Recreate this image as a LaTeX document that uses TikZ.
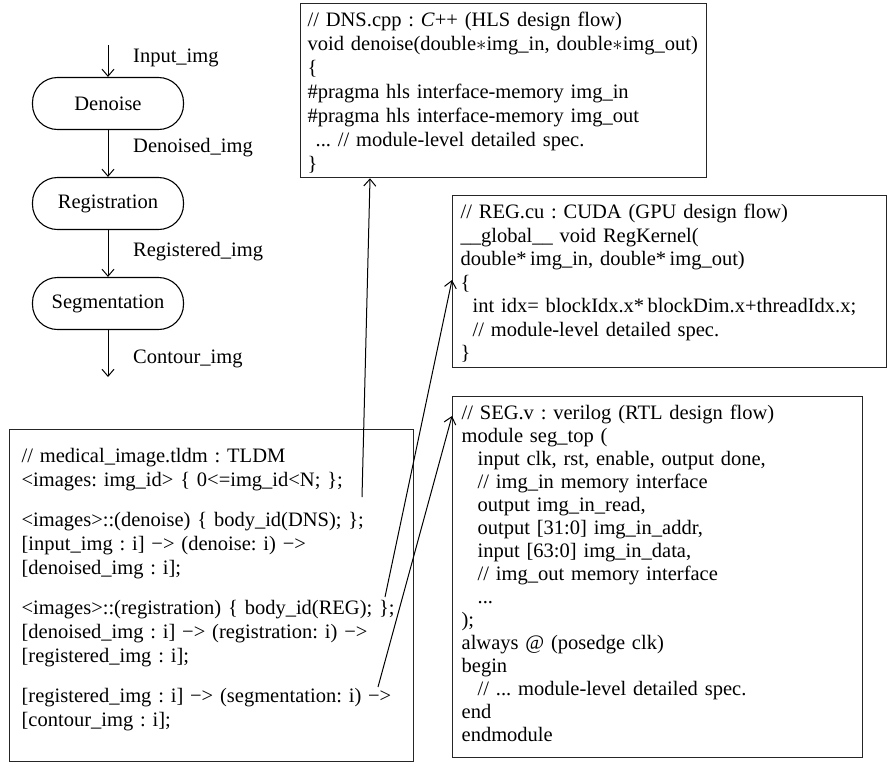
\documentclass[tikz,border=0pt]{standalone}
\usepackage{fontspec}
\setmainfont{Liberation Serif}
\usetikzlibrary{arrows.meta}

\begin{document}
\frenchspacing
\begin{tikzpicture}[x=1pt,y=-1pt,
  every node/.style={font=\fontsize{20.5}{24}\selectfont},
  stage/.style={draw, line width=1.1pt, rounded corners=25pt,
    minimum width=151pt, minimum height=52pt, inner sep=0pt},
  flowlabel/.style={anchor=west, inner sep=0pt},
  barb/.style={-{Straight Barb[length=7pt,width=12pt,line width=1pt]}},
  flow/.style={line width=1pt, barb},
  link/.style={line width=1pt, barb},
  codebox/.style={draw, line width=1.3pt, draw=black!85, anchor=north west, align=left,
    inner ysep=0pt},
]
\useasboundingbox (0,0) rectangle (888,763);

% ---- task flow on the left ----
\coordinate (top) at (108,45);
\node[stage] (fden) at (108,103.5) {Denoise};
\node[stage] (freg) at (108,203.5) {Registration};
\node[stage] (fseg) at (108,303.5) {Segmentation};
\coordinate (bot) at (108,377);

\draw[flow] (top) -- (fden.north);
\draw[flow] (fden.south) -- (freg.north);
\draw[flow] (freg.south) -- (fseg.north);
\draw[flow] (fseg.south) -- (bot);

\node[flowlabel] (lin)  at (133,58)  {Input\_img};
\node[flowlabel] (lden) at (133,148) {Denoised\_img};
\node[flowlabel] (lreg) at (133,252) {Registered\_img};
\node[flowlabel] (lcon) at (133,359) {Contour\_img};

% ---- HLS source ----
\node[codebox, inner xsep=7pt, text width=392pt, text height=23pt, text depth=151pt]
  (dns) at (300,3) {%
// DNS.cpp : \textit{C}++ (HLS design flow)\\
void denoise(double$\ast$img\_in, double$\ast$img\_out)\\
\{\\
\#pragma hls interface-memory img\_in\\
\#pragma hls interface-memory img\_out\\
\hspace*{8pt}... // module-level detailed spec.\\
\}};

% ---- CUDA source ----
\node[codebox, inner xsep=8pt, text width=418pt, text height=23pt, text depth=149pt,
  font=\fontsize{20.5}{23.5}\selectfont]
  (regc) at (452,195) {%
// REG.cu : CUDA (GPU design flow)\\
\_\_global\_\_ void RegKernel(\\
double*\,img\_in, double*\,img\_out)\\
\{\\
\hspace*{12pt}int idx= blockIdx.x*\,blockDim.x+threadIdx.x;\\
\hspace*{12pt}// module-level detailed spec.\\
\}};

% ---- RTL source ----
\node[codebox, inner xsep=9pt, text width=392pt, text height=23pt, text depth=338pt,
  font=\fontsize{20.5}{23}\selectfont]
  (segc) at (452,396) {%
// SEG.v : verilog (RTL design flow)\\
module seg\_top (\\
\hspace*{16pt}input clk, rst, enable, output done,\\
\hspace*{16pt}// img\_in memory interface\\
\hspace*{16pt}output img\_in\_read,\\
\hspace*{16pt}output [31:0] img\_in\_addr,\\
\hspace*{16pt}input [63:0] img\_in\_data,\\
\hspace*{16pt}// img\_out memory interface\\
\hspace*{16pt}...\\
);\\
always @ (posedge clk)\\
begin\\
\hspace*{16pt}// ... module-level detailed spec.\\
end\\
endmodule};

% ---- TLDM description ----
\node[codebox, inner xsep=12pt, text width=380pt, text height=33pt, text depth=299pt]
  (tldm) at (9,429) {%
// medical\_image.tldm : TLDM\\
<images: img\_id> \{ 0<=img\_id<N; \};\\[16pt]
<images>::(denoise) \{ body\_id(DNS); \};\\
{[}input\_img : i] −> (denoise: i) −>\\
{[}denoised\_img : i];\\[16pt]
<images>::(registration) \{ body\_id(REG); \};\\
{[}denoised\_img : i] −> (registration: i) −>\\
{[}registered\_img : i];\\[16pt]
{[}registered\_img : i] −> (segmentation: i) −>\\
{[}contour\_img : i];};

% ---- links from the TLDM tasks to their bodies ----
\coordinate (s1) at (362,497);
\coordinate (s2) at (385,597);
\coordinate (s3) at (378,687);
\draw[link] (s1) -- ([xshift=70pt]dns.south west);
\draw[link] (s2) -- ([yshift=-85pt]regc.north west);
\draw[link] (s3) -- ([yshift=-20pt]segc.north west);
\end{tikzpicture}
\end{document}
